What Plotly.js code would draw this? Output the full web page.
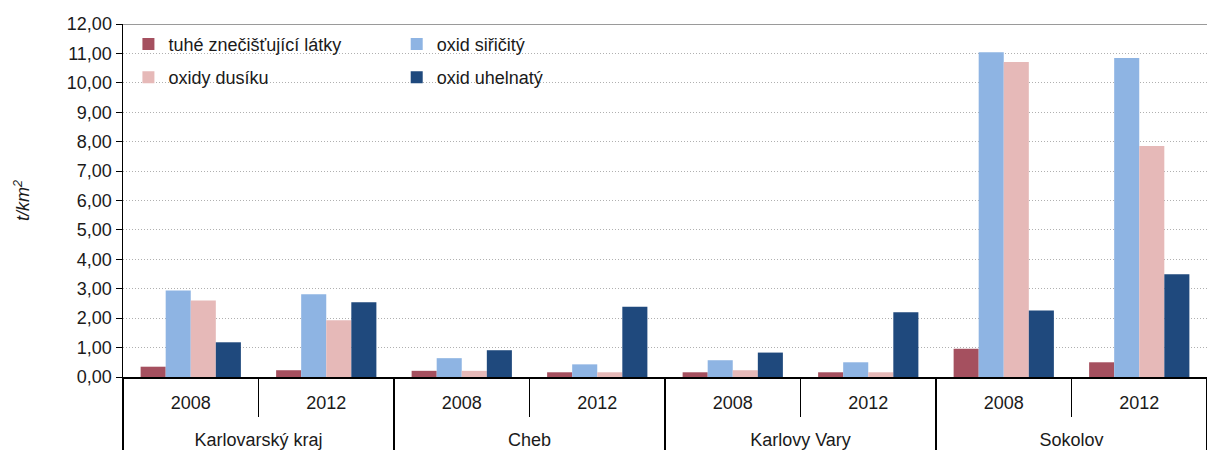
<!DOCTYPE html>
<html>
<head>
<meta charset="utf-8">
<script src="https://cdn.plot.ly/plotly-3.0.1.min.js"></script>
<style>
  body { margin: 0; background: #fff; }
  #chart { width: 1207px; height: 451px; }
</style>
</head>
<body>
<div id="chart"></div>
<script>
// regiony a roky (dvouúrovňová osa x)
var regions = ['Karlovarský kraj', 'Karlovarský kraj', 'Cheb', 'Cheb', 'Karlovy Vary', 'Karlovy Vary', 'Sokolov', 'Sokolov'];
var years = ['2008', '2012', '2008', '2012', '2008', '2012', '2008', '2012'];

// emise v t/km2
var tuhe = [0.35, 0.23, 0.21, 0.16, 0.16, 0.16, 0.96, 0.50];
var so2 = [2.94, 2.81, 0.64, 0.43, 0.57, 0.50, 11.04, 10.84];
var nox = [2.60, 1.93, 0.21, 0.16, 0.23, 0.16, 10.71, 7.85];
var co = [1.18, 2.54, 0.91, 2.39, 0.83, 2.20, 2.26, 3.49];

var seriesNames = ['tuhé znečišťující látky', 'oxid siřičitý', 'oxidy dusíku', 'oxid uhelnatý'];
var seriesValues = [tuhe, so2, nox, co];
var colors = ['#A5505F', '#8EB4E3', '#E6B9B8', '#1F497D'];
var legendOf = ['legend', 'legend2', 'legend', 'legend2'];

// <br> posune názvy regionů o řádek níž (jako v originále)
var regionLabels = regions.map(function (r) { return '<br>' + r; });

var data = seriesValues.map(function (vals, i) {
    return {
        type: 'bar',
        name: seriesNames[i],
        x: [regionLabels, years],
        y: vals,
        marker: { color: colors[i], line: { width: 0 } },
        legend: legendOf[i],
        legendgroup: 'g' + i,
        hoverinfo: 'y+name'
    };
});

var font = { family: 'Liberation Sans, Arial, sans-serif', size: 18, color: '#1a1a1a' };

var legendCommon = {
    font: font,
    bgcolor: 'rgba(0,0,0,0)',
    borderwidth: 0,
    orientation: 'v',
    traceorder: 'grouped',
    tracegroupgap: 7,
    xanchor: 'left',
    yanchor: 'top',
    y: 0.995
};

var layout = {
    width: 1207,
    height: 451,
    margin: { l: 123, r: 0, t: 24, b: 74 },
    paper_bgcolor: '#fff',
    plot_bgcolor: '#fff',
    font: font,
    separators: ', ',
    barmode: 'group',
    bargap: 0.26,
    bargroupgap: 0,
    showlegend: true,
    legend: Object.assign({}, legendCommon, { x: 0.005 }),
    legend2: Object.assign({}, legendCommon, { x: 0.2525 }),
    // horní plná šedá linka na úrovni 12
    shapes: [{
        type: 'line', xref: 'paper', x0: 0, x1: 1, yref: 'y', y0: 12, y1: 12,
        line: { color: '#9a9a9a', width: 2 }
    }],
    xaxis: {
        type: 'multicategory',
        showline: true,
        linecolor: '#000',
        linewidth: 1.5,
        ticks: 'outside',
        tickson: 'boundaries',
        ticklen: 38,
        tickwidth: 1.5,
        tickcolor: '#000',
        ticklabelstandoff: 9,
        showdividers: true,
        dividercolor: '#000',
        dividerwidth: 1.5,
        showgrid: false,
        tickfont: font
    },
    yaxis: {
        range: [0, 12],
        dtick: 1,
        tick0: 0,
        tickformat: '.2f',
        showline: true,
        linecolor: '#000',
        linewidth: 1.5,
        ticks: 'outside',
        ticklen: 6,
        tickcolor: '#000',
        showgrid: true,
        gridcolor: '#b0b0b0',
        griddash: '1px,2px',
        gridwidth: 1,
        zeroline: false,
        tickfont: font,
        title: {
            text: '<i>t/km<sup>2</sup></i>',
            font: font,
            standoff: 32
        }
    }
};

Plotly.newPlot('chart', data, layout, { displayModeBar: false, staticPlot: true });
</script>
</body>
</html>
